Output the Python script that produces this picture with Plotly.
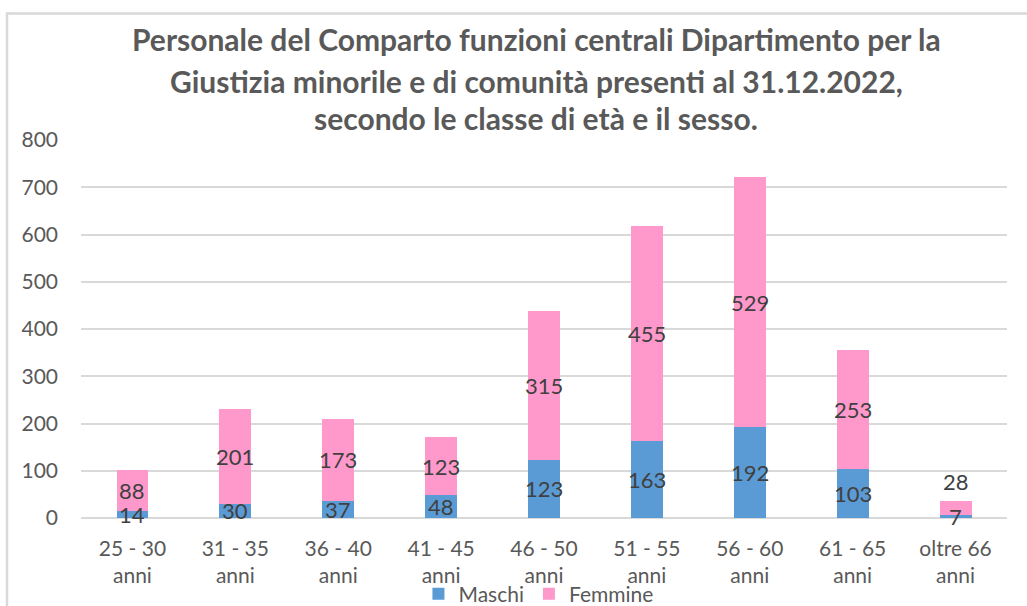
import plotly.graph_objects as go

categories = ["25 - 30<br>anni", "31 - 35<br>anni", "36 - 40<br>anni", "41 - 45<br>anni",
              "46 - 50<br>anni", "51 - 55<br>anni", "56 - 60<br>anni", "61 - 65<br>anni",
              "oltre 66<br>anni"]
maschi = [14, 30, 37, 48, 123, 163, 192, 103, 7]
femmine = [88, 201, 173, 123, 315, 455, 529, 253, 28]
y_ticks = [0, 100, 200, 300, 400, 500, 600, 700, 800]
title_lines = ["Personale del Comparto funzioni centrali Dipartimento per la",
               "Giustizia minorile e di comunità presenti al 31.12.2022,",
               "secondo le classe di età e il sesso."]

BLUE = "#5B9BD5"
PINK = "#FF99CC"
FONT = "Lato, Open Sans, sans-serif"
TXT = "#595959"

fig = go.Figure()
fig.add_trace(go.Bar(x=categories, y=maschi, name="Maschi", marker_color=BLUE,
                     marker_line_width=0, hoverinfo="y"))
fig.add_trace(go.Bar(x=categories, y=femmine, name="Femmine", marker_color=PINK,
                     marker_line_width=0, hoverinfo="y"))

label_font = dict(size=22, color="#404040", family=FONT)
annotations = []
for c, m, f in zip(categories, maschi, femmine):
    annotations.append(dict(x=c, y=m / 2, text=str(m), showarrow=False, font=label_font))
    if f < 40:
        annotations.append(dict(x=c, y=m + f, text=str(f), showarrow=False, yanchor="bottom",
                                yshift=4, font=label_font))
    else:
        annotations.append(dict(x=c, y=m + f / 2, text=str(f), showarrow=False, font=label_font))

title_y = [1.2685, 1.1574, 1.0582]
for t, ty in zip(title_lines, title_y):
    annotations.append(dict(text="<b>" + t + "</b>", x=0.4916, xref="paper", y=ty, yref="paper",
                            xanchor="center", yanchor="middle", showarrow=False,
                            font=dict(size=30, color=TXT, family=FONT)))

fig.update_layout(
    width=1027, height=606,
    barmode="stack", bargap=0.69,
    paper_bgcolor="white", plot_bgcolor="white",
    margin=dict(l=81, r=20, t=140, b=88, autoexpand=False),
    font=dict(family=FONT, color=TXT, size=21),
    yaxis=dict(range=[0, 800], tickvals=y_ticks, showgrid=True, gridcolor="#D9D9D9",
               gridwidth=2, zeroline=True, zerolinecolor="#D9D9D9", zerolinewidth=2,
               ticklabelstandoff=22, tickfont=dict(size=21, color=TXT), automargin=False),
    xaxis=dict(showline=False, tickfont=dict(size=21, color=TXT), ticks="",
               ticklabelstandoff=16, automargin=False),
    legend=dict(orientation="h", x=0.494, xanchor="center", y=-0.201, yanchor="middle",
                font=dict(size=21, color=TXT), bgcolor="rgba(0,0,0,0)",
                itemwidth=30, traceorder="normal"),
    annotations=annotations,
    showlegend=True,
    shapes=[dict(type="rect", xref="paper", yref="paper", x0=-0.0799, x1=1.2, y0=-0.6, y1=1.3347,
                 line=dict(color="#D9D9D9", width=2.5), fillcolor="rgba(0,0,0,0)", layer="below")],
)

fig.write_html("out.html", config={"displayModeBar": False},
               post_script="document.body.style.margin='0px';")
